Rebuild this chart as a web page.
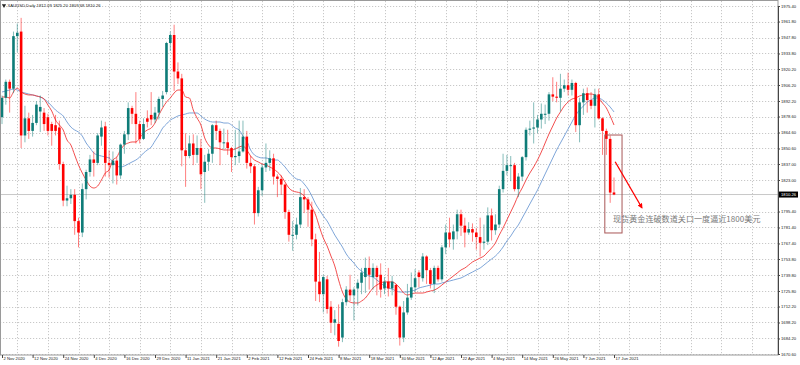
<!DOCTYPE html>
<html>
<head>
<meta charset="utf-8">
<script src="https://cdn.jsdelivr.net/npm/d3@7"></script>
<style>
  body { margin: 0; background: #fff; }
  svg { display: block; font-family: "Liberation Sans", Arial, sans-serif; }
</style>
</head>
<body>
<div id="chart"></div>
<script>
// trading days shown on the chart (one candle each)
const tradingDays = [
  '2020-11-02','2020-11-03','2020-11-04','2020-11-05','2020-11-06','2020-11-09','2020-11-10','2020-11-11','2020-11-12','2020-11-13',
  '2020-11-16','2020-11-17','2020-11-18','2020-11-19','2020-11-20','2020-11-23','2020-11-24','2020-11-25','2020-11-26','2020-11-27',
  '2020-11-30','2020-12-01','2020-12-02','2020-12-03','2020-12-04','2020-12-07','2020-12-08','2020-12-09','2020-12-10','2020-12-11',
  '2020-12-14','2020-12-15','2020-12-16','2020-12-17','2020-12-18','2020-12-21','2020-12-22','2020-12-23','2020-12-24','2020-12-28',
  '2020-12-29','2020-12-30','2020-12-31','2021-01-04','2021-01-05','2021-01-06','2021-01-07','2021-01-08','2021-01-11','2021-01-12',
  '2021-01-13','2021-01-14','2021-01-15','2021-01-18','2021-01-19','2021-01-20','2021-01-21','2021-01-22','2021-01-25','2021-01-26',
  '2021-01-27','2021-01-28','2021-01-29','2021-02-01','2021-02-02','2021-02-03','2021-02-04','2021-02-05','2021-02-08','2021-02-09',
  '2021-02-10','2021-02-11','2021-02-12','2021-02-15','2021-02-16','2021-02-17','2021-02-18','2021-02-19','2021-02-22','2021-02-23',
  '2021-02-24','2021-02-25','2021-02-26','2021-03-01','2021-03-02','2021-03-03','2021-03-04','2021-03-05','2021-03-08','2021-03-09',
  '2021-03-10','2021-03-11','2021-03-12','2021-03-15','2021-03-16','2021-03-17','2021-03-18','2021-03-19','2021-03-22','2021-03-23',
  '2021-03-24','2021-03-25','2021-03-26','2021-03-29','2021-03-30','2021-03-31','2021-04-01','2021-04-05','2021-04-06','2021-04-07',
  '2021-04-08','2021-04-09','2021-04-12','2021-04-13','2021-04-14','2021-04-15','2021-04-16','2021-04-19','2021-04-20','2021-04-21',
  '2021-04-22','2021-04-23','2021-04-26','2021-04-27','2021-04-28','2021-04-29','2021-04-30','2021-05-03','2021-05-04','2021-05-05',
  '2021-05-06','2021-05-07','2021-05-10','2021-05-11','2021-05-12','2021-05-13','2021-05-14','2021-05-17','2021-05-18','2021-05-19',
  '2021-05-20','2021-05-21','2021-05-24','2021-05-25','2021-05-26','2021-05-27','2021-05-28','2021-05-31','2021-06-01','2021-06-02',
  '2021-06-03','2021-06-04','2021-06-07','2021-06-08','2021-06-09','2021-06-10','2021-06-11','2021-06-14','2021-06-15','2021-06-16',
  '2021-06-17'
]

const opens = [
  1878,1895,1909,1903,1949,1953,1862,1877,1866,1873, 1883,1882,1878,1872,1871,1869,1837,1805,1807,1810,
  1787,1777,1815,1830,1841,1838,1861,1870,1838,1836, 1840,1827,1854,1863,1886,1881,1872,1859,1877,1880,
  1876,1882,1894,1900,1943,1950,1918,1912,1849,1844, 1855,1845,1851,1830,1839,1846,1871,1866,1856,1856,
  1851,1843,1844,1848,1861,1838,1835,1794,1814,1834, 1838,1842,1826,1824,1819,1795,1775,1775,1784,1808,
  1806,1797,1771,1734,1723,1736,1712,1698,1697,1685, 1716,1727,1722,1728,1733,1738,1746,1738,1746,1740,
  1728,1734,1728,1731,1712,1685,1707,1720,1729,1742, 1737,1756,1744,1732,1746,1736,1764,1777,1771,1778,
  1793,1783,1777,1780,1777,1773,1768,1769,1792,1779, 1784,1815,1831,1836,1836,1815,1826,1843,1867,1868,
  1869,1876,1881,1881,1898,1896,1895,1903,1906,1902, 1908,1871,1891,1899,1893,1888,1898,1877,1866,1859,
  1812.09
]
const highs = [
  1897,1911,1911,1953,1960,1965,1888,1882,1880,1892, 1897,1886,1881,1874,1880,1875,1839,1818,1815,1815,
  1790,1820,1832,1845,1848,1864,1875,1874,1849,1848, 1843,1855,1866,1891,1888,1900,1875,1877,1884,1900,
  1887,1896,1901,1944,1953,1959,1926,1916,1864,1862, 1863,1862,1859,1845,1850,1872,1875,1868,1868,1867,
  1852,1867,1875,1875,1866,1844,1837,1817,1837,1855, 1849,1846,1828,1827,1820,1797,1787,1790,1816,1815,
  1808,1804,1776,1760,1740,1739,1717,1709,1714,1719, 1730,1740,1729,1736,1746,1755,1756,1750,1748,1750,
  1738,1746,1739,1732,1713,1717,1732,1742,1745,1744, 1759,1757,1746,1748,1748,1766,1784,1790,1784,1797,
  1797,1790,1786,1785,1781,1790,1784,1799,1798,1793, 1818,1846,1845,1844,1838,1829,1844,1869,1875,1891,
  1880,1890,1889,1900,1913,1909,1916,1911,1917,1911, 1909,1895,1903,1904,1900,1903,1903,1878,1868,1862,
  1825.20
]
const lows = [
  1872,1889,1882,1899,1935,1851,1856,1859,1861,1871, 1865,1866,1862,1853,1862,1832,1800,1800,1802,1775,
  1764,1773,1806,1826,1826,1836,1853,1826,1825,1820, 1819,1824,1846,1858,1872,1855,1855,1858,1869,1871,
  1873,1876,1887,1898,1936,1901,1907,1835,1817,1842, 1836,1838,1815,1803,1831,1838,1858,1836,1850,1845,
  1830,1836,1838,1847,1833,1829,1784,1791,1809,1830, 1831,1819,1808,1810,1789,1769,1761,1771,1781,1794,
  1782,1765,1717,1716,1707,1706,1689,1687,1677,1681, 1713,1717,1700,1713,1723,1724,1727,1727,1722,1720,
  1723,1721,1722,1705,1678,1681,1705,1718,1725,1729, 1734,1732,1728,1724,1734,1734,1758,1764,1762,1771,
  1774,1764,1775,1769,1762,1756,1762,1766,1770,1775, 1781,1812,1827,1822,1813,1808,1822,1840,1862,1855,
  1864,1868,1872,1875,1892,1891,1883,1900,1897,1897, 1865,1856,1880,1882,1885,1869,1876,1845,1845,1803,
  1809.68
]
const closes = [
  1895,1909,1903,1949,1952,1862,1877,1866,1873,1889, 1887,1872,1866,1866,1866,1837,1805,1807,1810,1787,
  1777,1815,1830,1841,1838,1862,1869,1838,1836,1840, 1827,1854,1863,1886,1881,1872,1859,1872,1874,1876,
  1882,1894,1897,1943,1950,1918,1912,1849,1844,1855, 1845,1851,1828,1839,1846,1871,1866,1856,1856,1851,
  1843,1844,1848,1861,1838,1835,1794,1814,1834,1838, 1842,1826,1824,1819,1795,1775,1775,1784,1808,1806,
  1797,1771,1734,1723,1738,1710,1698,1701,1682,1716, 1727,1722,1727,1733,1742,1746,1740,1746,1738,1727,
  1734,1728,1734,1712,1685,1707,1720,1729,1737,1738, 1756,1744,1732,1746,1736,1764,1777,1771,1778,1793,
  1783,1777,1780,1777,1773,1768,1769,1792,1779,1784, 1815,1831,1836,1836,1815,1826,1843,1867,1868,1869,
  1876,1881,1881,1898,1896,1895,1903,1906,1902,1908, 1871,1891,1899,1893,1888,1898,1877,1866,1859,1812,
  1810.26
]

// moving averages (red = fast, blue = slow)
const maFast = [
  1895.7,1895.7,1894.8,1900.1,1903.6,1900.1,1898.3,1897.5,1897.5,1896.6, 1895.7,1893.9,1888.7,1883.4,1875.5,1871.2,1866.8,1858.0,1853.7,1844.9,
  1836.1,1829.1,1823.0,1817.7,1816.0,1817.7,1823.0,1829.1,1831.8,1840.5, 1843.1,1849.3,1853.7,1855.4,1856.3,1856.3,1859.8,1864.2,1866.8,1868.5,
  1872.9,1879.9,1886.1,1891.3,1894.8,1899.2,1901.8,1901.8,1895.7,1894.8, 1884.3,1877.3,1871.2,1859.8,1853.7,1851.0,1851.0,1850.2,1849.3,1849.3,
  1849.3,1850.2,1851.9,1852.8,1849.3,1844.0,1840.5,1838.8,1837.0,1836.1, 1834.4,1832.6,1830.0,1826.5,1821.2,1816.0,1813.4,1812.5,1811.6,1809.0,
  1804.6,1799.3,1792.3,1781.8,1772.2,1765.2,1756.4,1747.7,1735.4,1724.9, 1718.8,1716.1,1715.3,1715.3,1717.0,1719.6,1724.0,1728.4,1731.0,1732.8,
  1733.7,1733.7,1733.7,1731.9,1728.4,1724.0,1722.3,1723.1,1724.0,1724.0, 1724.0,1724.9,1725.8,1726.6,1728.4,1731.0,1733.7,1736.3,1738.9,1741.5,
  1744.2,1745.9,1748.5,1751.2,1752.9,1754.7,1756.4,1759.9,1763.4,1767.8, 1774.8,1781.0,1788.0,1795.0,1802.0,1809.9,1816.0,1823.0,1829.1,1834.4,
  1840.5,1847.5,1855.4,1863.3,1870.3,1877.3,1882.6,1887.8,1891.3,1893.9, 1894.8,1896.6,1897.5,1898.3,1898.3,1897.5,1894.8,1890.4,1886.1,1879.1,
  1871.2
]
const maSlow = [
  1900.1,1900.9,1901.8,1902.7,1901.8,1900.1,1899.2,1898.3,1897.5,1896.6, 1895.7,1893.9,1891.3,1887.8,1884.3,1881.7,1879.1,1873.8,1869.4,1866.8,
  1865.0,1861.5,1855.4,1851.0,1846.6,1844.9,1844.0,1843.1,1842.3,1838.8, 1835.3,1834.4,1835.3,1837.0,1838.8,1840.5,1843.1,1846.6,1849.3,1851.9,
  1857.2,1862.4,1868.5,1872.0,1875.5,1877.3,1879.1,1879.9,1880.8,1881.7, 1881.7,1881.7,1879.1,1876.4,1874.7,1873.8,1873.8,1873.8,1872.9,1872.9,
  1871.2,1868.5,1866.8,1861.5,1857.2,1849.3,1844.9,1843.1,1842.3,1842.3, 1841.4,1840.5,1840.5,1837.9,1834.4,1830.0,1826.5,1823.9,1823.0,1819.5,
  1815.1,1809.0,1802.0,1796.7,1791.5,1787.1,1781.0,1774.8,1769.6,1764.3, 1758.2,1753.8,1750.3,1745.9,1743.3,1740.7,1738.9,1738.0,1735.4,1732.8,
  1730.1,1728.4,1727.5,1725.8,1724.9,1724.9,1724.9,1725.8,1726.6,1728.4, 1729.3,1730.1,1731.0,1731.9,1731.9,1732.8,1733.7,1734.5,1735.4,1736.3,
  1737.2,1738.9,1740.7,1742.4,1744.2,1745.9,1748.5,1751.2,1753.8,1756.4, 1759.9,1764.3,1769.6,1773.9,1779.2,1783.6,1789.7,1795.8,1802.0,1808.1,
  1814.2,1821.2,1828.3,1835.3,1842.3,1849.3,1855.4,1861.5,1867.7,1873.8, 1879.9,1884.3,1887.8,1891.3,1893.1,1894.8,1894.8,1893.1,1890.4,1886.9,
  1882.6
]

// axis labels
const priceTicks = [1975.40, 1961.80, 1947.80, 1933.80, 1920.20, 1906.20, 1892.20, 1878.60, 1864.60, 1850.60, 1837.00,
  1823.00, 1795.40, 1781.40, 1767.40, 1753.80, 1739.80, 1725.80, 1712.20, 1698.20, 1684.20, 1670.60]
const dateTicks = ['2020-11-02','2020-11-12','2020-11-24','2020-12-04','2020-12-16','2020-12-29','2021-01-11','2021-01-21',
  '2021-02-02','2021-02-12','2021-02-24','2021-03-08','2021-03-18','2021-03-30','2021-04-12','2021-04-22','2021-05-04',
  '2021-05-14','2021-05-26','2021-06-07','2021-06-17']

const title = 'XAUUSD,Daily 1812.09 1825.20 1809.68 1810.26'
const note = '现货黄金连破数道关口一度逼近1800美元'
const lastPrice = 1810.26

const width = 800
const height = 365
const plotRight = 778
const plotBottom = 355

const svg = d3
  .select('#chart')
  .append('svg')
  .attr('width', width)
  .attr('height', height)

// bar index -> x
const xPositionScale = d3
  .scaleLinear()
  .domain([0, tradingDays.length - 1])
  .range([2, 614])

const yPositionScale = d3
  .scaleLinear()
  .domain([1670.6, 1975.4])
  .range([354, 6])

const step = xPositionScale(1) - xPositionScale(0)
const parseDay = d3.timeParse('%Y-%m-%d')
const formatDay = d3.timeFormat('%-d %b %Y')

// horizontal grid
svg
  .append('g')
  .selectAll('line')
  .data(priceTicks)
  .enter()
  .append('line')
  .attr('x1', 0)
  .attr('x2', plotRight)
  .attr('y1', d => Math.round(yPositionScale(d)) + 0.5)
  .attr('y2', d => Math.round(yPositionScale(d)) + 0.5)
  .attr('stroke', '#c8c8c8')
  .attr('stroke-dasharray', '1.2,1.8')

// vertical grid sits half way between the date labels
const gridIdx = d3.range(4, 210, 8).filter(i => xPositionScale(i) < plotRight - 4)
svg
  .append('g')
  .selectAll('line')
  .data(gridIdx)
  .enter()
  .append('line')
  .attr('x1', d => Math.round(xPositionScale(d)) + 0.5)
  .attr('x2', d => Math.round(xPositionScale(d)) + 0.5)
  .attr('y1', 1)
  .attr('y2', plotBottom)
  .attr('stroke', '#c8c8c8')
  .attr('stroke-dasharray', '1.2,1.8')

// last price line
svg
  .append('line')
  .attr('x1', 0)
  .attr('x2', plotRight)
  .attr('y1', yPositionScale(lastPrice))
  .attr('y2', yPositionScale(lastPrice))
  .attr('stroke', '#c8c8c8')
  .attr('stroke-width', 1)

// moving averages
const maLine = d3
  .line()
  .x((d, i) => xPositionScale(i))
  .y(d => yPositionScale(d))
  .curve(d3.curveMonotoneX)

svg
  .append('path')
  .datum(maSlow)
  .attr('d', maLine)
  .attr('fill', 'none')
  .attr('stroke', '#6f9bd4')
  .attr('stroke-width', 0.9)

svg
  .append('path')
  .datum(maFast)
  .attr('d', maLine)
  .attr('fill', 'none')
  .attr('stroke', '#f03a3a')
  .attr('stroke-width', 0.9)

// candles
const candles = tradingDays.map((day, i) => ({
  day: day,
  i: i,
  open: opens[i],
  high: highs[i],
  low: lows[i],
  close: closes[i]
}))
const bull = '#0e7c78'
const bear = '#ff0000'

const candle = svg
  .append('g')
  .selectAll('g')
  .data(candles)
  .enter()
  .append('g')

candle
  .append('line')
  .attr('x1', d => xPositionScale(d.i))
  .attr('x2', d => xPositionScale(d.i))
  .attr('y1', d => yPositionScale(d.high))
  .attr('y2', d => yPositionScale(d.low))
  .attr('stroke', d => (d.close >= d.open ? bull : bear))
  .attr('stroke-opacity', 0.5)
  .attr('stroke-width', 1)

candle
  .append('rect')
  .attr('x', d => xPositionScale(d.i) - step * 0.34)
  .attr('width', step * 0.68)
  .attr('y', d => yPositionScale(Math.max(d.open, d.close)))
  .attr('height', d => Math.max(1, Math.abs(yPositionScale(d.open) - yPositionScale(d.close))))
  .attr('fill', d => (d.close >= d.open ? bull : bear))

// annotation box, arrow and note
const last = tradingDays.length - 1
svg
  .append('rect')
  .attr('x', xPositionScale(last - 2.4))
  .attr('width', xPositionScale(last + 2.1) - xPositionScale(last - 2.4))
  .attr('y', yPositionScale(1862.4))
  .attr('height', yPositionScale(1776.6) - yPositionScale(1862.4))
  .attr('fill', 'none')
  .attr('stroke', '#a85656')
  .attr('stroke-width', 1)

svg
  .append('defs')
  .append('marker')
  .attr('id', 'head')
  .attr('viewBox', '0 0 10 10')
  .attr('refX', 8)
  .attr('refY', 5)
  .attr('markerWidth', 4)
  .attr('markerHeight', 4)
  .attr('orient', 'auto')
  .append('path')
  .attr('d', 'M0,0L10,5L0,10z')
  .attr('fill', '#ff0000')

svg
  .append('line')
  .attr('x1', xPositionScale(last + 0.3))
  .attr('y1', yPositionScale(1839))
  .attr('x2', xPositionScale(last + 7.3))
  .attr('y2', yPositionScale(1798.7))
  .attr('stroke', '#ff0000')
  .attr('stroke-width', 1.3)
  .attr('marker-end', 'url(#head)')

svg
  .append('text')
  .attr('x', xPositionScale(last - 0.25))
  .attr('y', yPositionScale(1786))
  .attr('font-family', '"Noto Sans CJK SC", sans-serif')
  .attr('font-size', 8.1)
  .attr('fill', '#7a7a7a')
  .text(note)

// frame
svg
  .append('rect')
  .attr('x', 0.5)
  .attr('y', 0.5)
  .attr('width', plotRight - 0.5)
  .attr('height', plotBottom - 0.5)
  .attr('fill', 'none')
  .attr('stroke', '#9a9a9a')
  .attr('stroke-width', 1)

// price axis
const yAxis = d3
  .axisRight(yPositionScale)
  .tickValues(priceTicks)
  .tickSize(2)
  .tickFormat(d3.format('.2f'))
svg
  .append('g')
  .attr('class', 'axis y-axis')
  .attr('transform', 'translate(' + plotRight + ',0)')
  .call(yAxis)
  .call(g => g.select('.domain').attr('stroke', '#444'))
  .call(g => g.selectAll('line').attr('stroke', '#444'))
  .call(g => g.selectAll('text').attr('font-size', 4.2).attr('fill', '#222').attr('x', 3).attr('font-family', 'inherit'))

// last price tag
const tag = svg.append('g').attr('transform', 'translate(' + (plotRight + 1) + ',' + yPositionScale(lastPrice) + ')')
tag
  .append('rect')
  .attr('x', 0)
  .attr('y', -3)
  .attr('width', 19)
  .attr('height', 6)
  .attr('fill', '#000')
tag
  .append('text')
  .attr('x', 2)
  .attr('y', 1.5)
  .attr('font-size', 4.2)
  .attr('fill', '#fff')
  .text(d3.format('.2f')(lastPrice))

// date axis
const dateIdx = dateTicks.map(d => tradingDays.indexOf(d))
const xAxis = d3
  .axisBottom(xPositionScale)
  .tickValues(dateIdx)
  .tickSize(3)
  .tickFormat(i => formatDay(parseDay(tradingDays[i])))
svg
  .append('g')
  .attr('class', 'axis x-axis')
  .attr('transform', 'translate(0,' + plotBottom + ')')
  .call(xAxis)
  .call(g => g.select('.domain').remove())
  .call(g => g.selectAll('line').attr('stroke', '#444'))
  .call(g => g.selectAll('text').attr('font-size', 4.2).attr('fill', '#222').attr('text-anchor', 'start').attr('x', 1).attr('y', 2).attr('dy', '0.71em').attr('font-family', 'inherit'))

// title
svg
  .append('path')
  .attr('d', d3.symbol(d3.symbolTriangle, 8)())
  .attr('transform', 'translate(4,5.5) rotate(180)')
  .attr('fill', '#222')
svg
  .append('text')
  .attr('x', 7.5)
  .attr('y', 7)
  .attr('font-size', 4.2)
  .attr('fill', '#222')
  .text(title)
</script>
</body>
</html>
